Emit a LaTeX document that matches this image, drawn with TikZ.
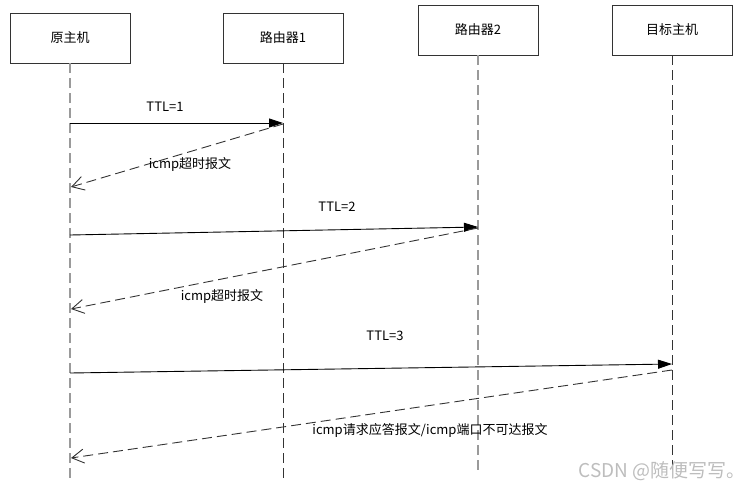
\documentclass[tikz,border=0pt]{standalone}
\usepackage{fontspec}
\newfontfamily\cjk{Noto Sans CJK SC}
\usepackage{xcolor}
\usepackage{tikz}
\usetikzlibrary{arrows.meta, positioning}
\definecolor{linedark}{HTML}{333333}
\definecolor{lifegray}{HTML}{9A9A9A}
\definecolor{markgray}{HTML}{BDBDBD}
\tikzstyle{hostbox} = [rectangle, minimum width=120pt, minimum height=50pt, draw=linedark,
  fill=white, line width=0.9pt, font=\cjk\fontsize{13}{15}\selectfont, text=black]
\tikzstyle{lifedark} = [draw=linedark, line width=0.9pt, dash pattern=on 10pt off 5pt]
\tikzstyle{lifelight} = [draw=lifegray, line width=1.8pt, dash pattern=on 10pt off 5pt]
\tikzstyle{msgarrow} = [draw=black, line width=0.9pt, -{Triangle[length=14pt, width=9pt]}]
\tikzstyle{replyarrow} = [draw=linedark, line width=0.9pt, dash pattern=on 10pt off 5pt,
  -{Straight Barb[length=12pt, width=14pt, line width=0.9pt]}]
\tikzstyle{msglabel} = [font=\cjk\fontsize{13}{15}\selectfont, text=black, inner sep=1pt]

\begin{document}
\begin{tikzpicture}[x=1pt, y=-1pt]
  \useasboundingbox (0,0) rectangle (754,490);

  % Participants
  \node (src)  [hostbox] at (70,38)  {原主机};
  \node (rt1)  [hostbox] at (283,38) {路由器1};
  \node (rt2)  [hostbox] at (478,30) {路由器2};
  \node (dst)  [hostbox] at (672,30) {目标主机};

  % Lifeline ends
  \coordinate (srcend) at (70,480);
  \coordinate (rt1end) at (283,480);
  \coordinate (rt2end) at (478,473);
  \coordinate (dstend) at (672,470);

  \draw[lifelight] (src.south) -- (srcend);
  \draw[lifedark]  (rt1.south) -- (rt1end);
  \draw[lifelight] (rt2.south) -- (rt2end);
  \draw[lifedark]  (dst.south) -- (dstend);

  % Message ends on the lifelines
  \coordinate (ttl1from) at (70,123);
  \coordinate (ttl1to)   at (283,123);
  \coordinate (back1from) at (283,124);
  \coordinate (back1to)   at (71,187);
  \coordinate (ttl2from) at (70,235);
  \coordinate (ttl2to)   at (478,227);
  \coordinate (back2from) at (478,228);
  \coordinate (back2to)   at (71,309);
  \coordinate (ttl3from) at (70,373);
  \coordinate (ttl3to)   at (672,364);
  \coordinate (back3from) at (672,370);
  \coordinate (back3to)   at (71,458);

  \draw[msgarrow]   (ttl1from) -- (ttl1to);
  \draw[replyarrow] (back1from) -- (back1to);
  \draw[msgarrow]   (ttl2from) -- (ttl2to);
  \draw[replyarrow] (back2from) -- (back2to);
  \draw[msgarrow]   (ttl3from) -- (ttl3to);
  \draw[replyarrow] (back3from) -- (back3to);

  % Labels
  \node (ttl1) [msglabel] at (165,107) {TTL=1};
  \node (icmp1) [msglabel] at (190,164) {icmp超时报文};
  \node (ttl2) [msglabel] at (337,207) {TTL=2};
  \node (icmp2) [msglabel] at (222,296) {icmp超时报文};
  \node (ttl3) [msglabel] at (385,336) {TTL=3};
  \node (icmp3) [msglabel] at (430,430) {icmp请求应答报文/icmp端口不可达报文};

  % Watermark
  \node (mark) [font=\cjk\fontsize{19}{21}\selectfont, text=markgray, inner sep=0pt] at (662,471)
    {CSDN @随便写写。};
\end{tikzpicture}
\end{document}
